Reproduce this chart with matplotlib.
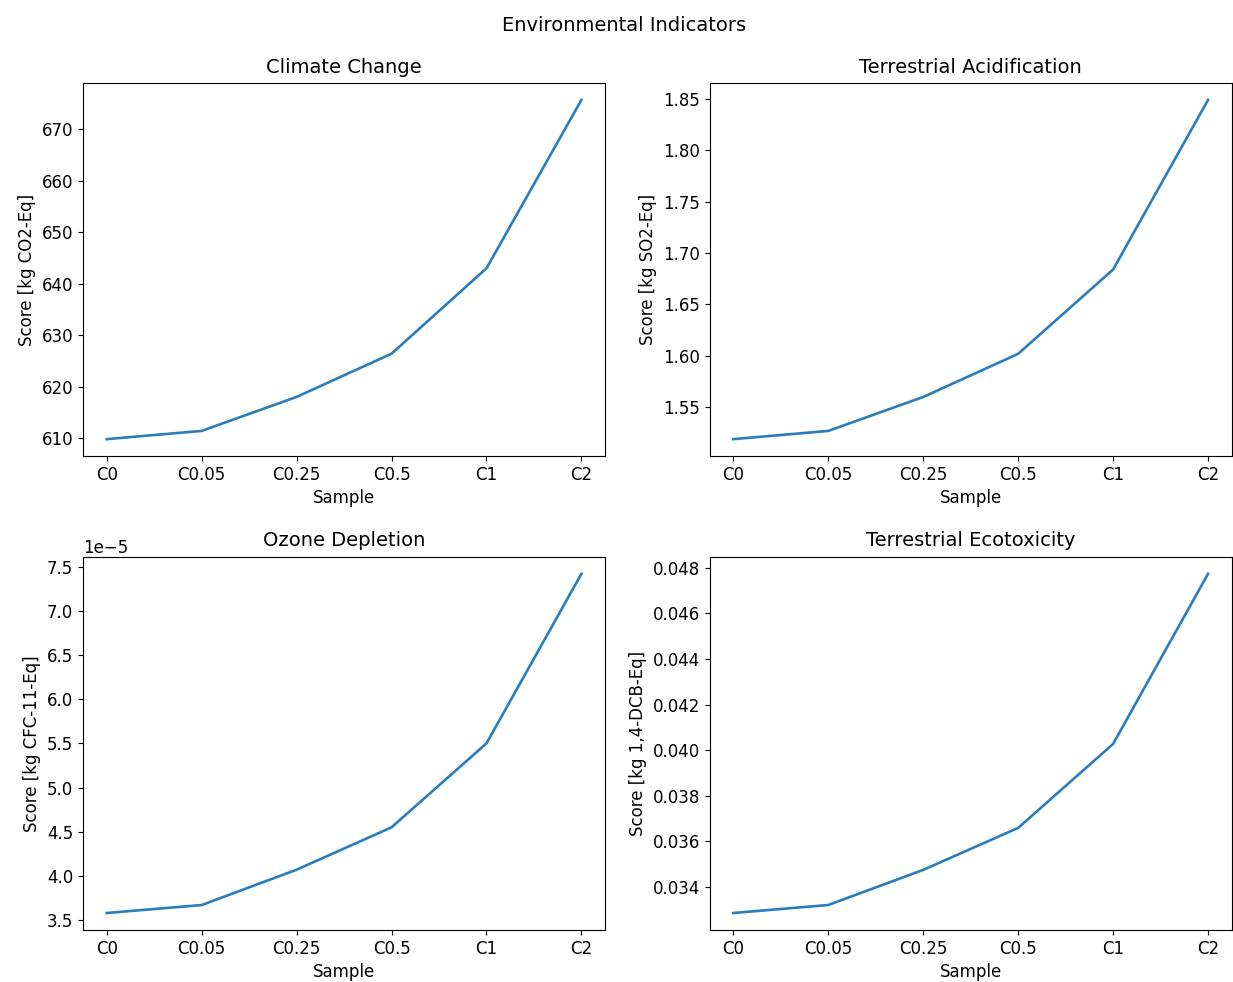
import matplotlib
matplotlib.use("Agg")
import matplotlib.pyplot as plt

samples = ["C0", "C0.05", "C0.25", "C0.5", "C1", "C2"]

climate_change = [609.8, 611.4, 618.0, 626.4, 643.0, 675.7]
terrestrial_acidification = [1.519, 1.527, 1.560, 1.602, 1.684, 1.849]
ozone_depletion = [3.58e-5, 3.67e-5, 4.07e-5, 4.55e-5, 5.50e-5, 7.42e-5]
terrestrial_ecotoxicity = [0.03286, 0.03321, 0.03475, 0.03659, 0.04027, 0.04773]

titles = ["Climate Change", "Terrestrial Acidification",
          "Ozone Depletion", "Terrestrial Ecotoxicity"]
ylabels = ["Score [kg CO2-Eq]", "Score [kg SO2-Eq]",
           "Score [kg CFC-11-Eq]", "Score [kg 1,4-DCB-Eq]"]
series = [climate_change, terrestrial_acidification,
          ozone_depletion, terrestrial_ecotoxicity]

plt.rcParams["font.size"] = 12

fig, axes = plt.subplots(2, 2, figsize=(12.33, 9.82), dpi=100)
fig.subplots_adjust(left=0.0673, right=0.999, top=0.9155, bottom=0.053,
                    wspace=0.2, hspace=0.27)
fig.suptitle("Environmental Indicators", fontsize=14, x=0.506, y=0.984)

for ax, vals, title, ylab in zip(axes.flat, series, titles, ylabels):
    ax.plot(samples, vals, color="#2a7dbc", linewidth=1.9)
    ax.set_title(title, fontsize=14, pad=7.5)
    ax.set_ylabel(ylab)
    ax.set_xlabel("Sample")

fig.savefig("out.png", dpi=100)
